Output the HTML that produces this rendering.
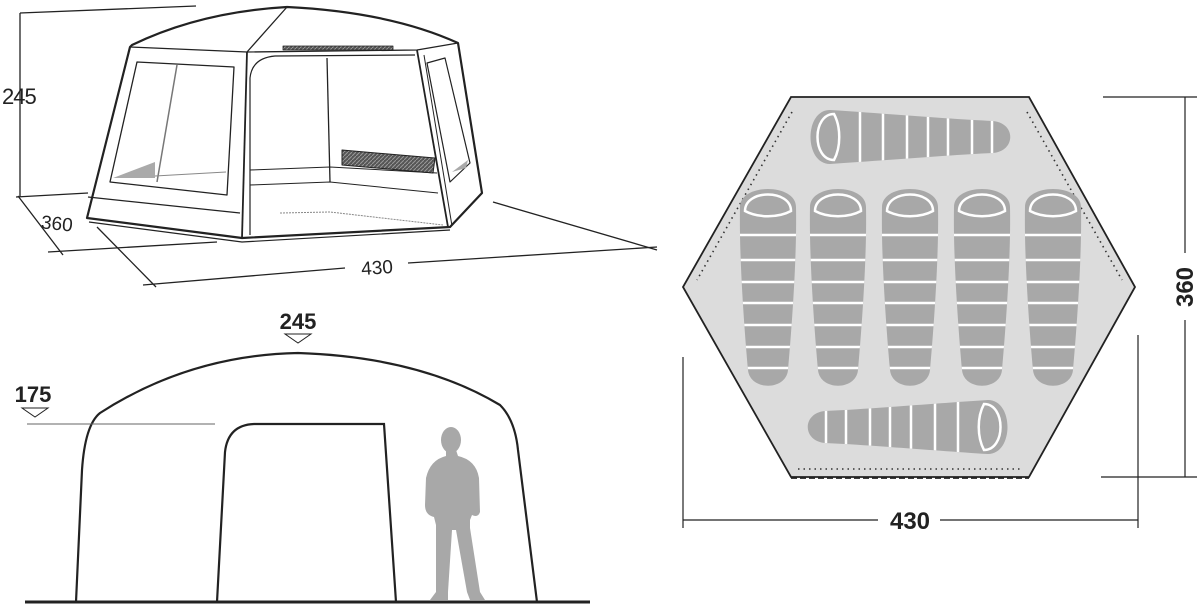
<!DOCTYPE html>
<html><head><meta charset="utf-8"><style>
html,body{margin:0;padding:0;background:#fff;}
svg{display:block;}
text{font-family:"Liberation Sans",sans-serif;font-weight:bold;fill:#222;}
</style></head><body>
<svg width="1200" height="612" viewBox="0 0 1200 612" xmlns="http://www.w3.org/2000/svg">
<defs>
  <pattern id="hatch" width="4" height="4" patternUnits="userSpaceOnUse">
    <rect width="4" height="4" fill="#555"/><path d="M0,4 L4,0" stroke="#999" stroke-width="1"/>
  </pattern>
  <path id="vbag" d="M-28,22 C-28,-2 28,-2 28,22 C29,70 24,140 20,185 C18,206 -18,206 -20,185 C-24,140 -29,70 -28,22 Z"/>
  <clipPath id="vclip"><use href="#vbag"/></clipPath>
  <g id="vb">
    <use href="#vbag" fill="#a8a8a8"/>
    <g clip-path="url(#vclip)" stroke="#fff" stroke-width="2.5">
      <line x1="-40" y1="50" x2="40" y2="50"/><line x1="-40" y1="75" x2="40" y2="75"/>
      <line x1="-40" y1="97" x2="40" y2="97"/><line x1="-40" y1="118" x2="40" y2="118"/>
      <line x1="-40" y1="140" x2="40" y2="140"/><line x1="-40" y1="162" x2="40" y2="162"/>
      <line x1="-40" y1="183" x2="40" y2="183"/>
    </g>
    <path d="M-23,26 C-23,4 23,4 23,26 C10,33 -10,33 -23,26 Z" fill="none" stroke="#fff" stroke-width="2.5"/>
  </g>
  <path id="hbag" d="M22,-27 C-4,-27 -4,27 22,27 C70,24 140,18 185,16 C208,14 208,-14 185,-16 C140,-18 70,-24 22,-27 Z"/>
  <clipPath id="hclip"><use href="#hbag"/></clipPath>
  <g id="hb">
    <use href="#hbag" fill="#a8a8a8"/>
    <g clip-path="url(#hclip)" stroke="#fff" stroke-width="2.5">
      <line x1="52" y1="-40" x2="52" y2="40"/><line x1="75" y1="-40" x2="75" y2="40"/>
      <line x1="99" y1="-40" x2="99" y2="40"/><line x1="120" y1="-40" x2="120" y2="40"/>
      <line x1="140" y1="-40" x2="140" y2="40"/><line x1="164" y1="-40" x2="164" y2="40"/>
      <line x1="184" y1="-40" x2="184" y2="40"/>
    </g>
    <path d="M26,-23 C4,-23 4,23 26,23 C33,10 33,-10 26,-23 Z" fill="none" stroke="#fff" stroke-width="2.5"/>
  </g>
</defs>

<!-- ===== Top-left perspective tent ===== -->
<g fill="none" stroke="#222" stroke-width="1.3">
  <!-- dimension lines -->
  <line x1="20" y1="13" x2="196" y2="6"/>
  <line x1="20" y1="13" x2="20" y2="197"/>
  <line x1="16" y1="197" x2="88" y2="193"/>
  <line x1="18" y1="196" x2="63" y2="255"/>
  <line x1="48" y1="252" x2="217" y2="242"/>
  <line x1="97" y1="227" x2="156" y2="287"/>
  <line x1="143" y1="285" x2="345" y2="268"/>
  <line x1="408" y1="263" x2="657" y2="247"/>
  <line x1="493" y1="202" x2="657" y2="250"/>
</g>
<g stroke="#222" fill="none" stroke-linejoin="round">
  <!-- body -->
  <path d="M132,45 Q200,12 287,7 Q390,12 458,43 L482,193 L450,227 L242,238 L87,218 L130,47 Z" fill="#fff" stroke-width="2.2"/>
  <path d="M130,47 L247,52 L287,7" stroke-width="1.3"/>
  <path d="M247,52 L417,50 L458,43" stroke-width="1.3"/>
  <path d="M247,52 L242,238" stroke-width="1.8"/>
  <path d="M417,50 L448,227" stroke-width="1.8"/>
  <path d="M424,55 L452,226" stroke-width="1"/>
  <path d="M88,197 L240,213" stroke-width="1.2"/>
  <path d="M89,222 L242,242 L450,230" stroke-width="1.2"/>
  <!-- vent on roof -->
  <rect x="283" y="46" width="110" height="4" fill="url(#hatch)" stroke-width="0.8"/>
  <!-- door arch -->
  <path d="M250,235 L250,78 Q252,58 275,56 L415,55" stroke-width="1.2"/>
  <!-- inner back walls -->
  <path d="M250,170 L330,167 L437,173" stroke-width="1"/>
  <path d="M250,185 L330,182 L438,193" stroke-width="1"/>
  <path d="M327,58 L330,182" stroke-width="1.3"/>
  <!-- right vent strip -->
  <path d="M342,150 L435,158 L433,173 L342,165 Z" fill="url(#hatch)" stroke-width="1"/>
  <!-- left window -->
  <path d="M137,62 L234,67 L227,195 L110,182 Z" stroke-width="1.3"/>
  <path d="M177,65 L157,182" stroke="#777" stroke-width="1.5"/>
  <path d="M113,178 L155,162 L155,178 Z" fill="#aaa" stroke="none"/>
  <path d="M155,176 L226,172" stroke="#888" stroke-width="1"/>
  <!-- right window -->
  <path d="M427,63 L445,58 L470,163 L450,182 Z" stroke-width="1.2"/>
  <path d="M452,172 L468,160 L466,168 Z" fill="#aaa" stroke="none"/>
  <!-- floor dashed -->
  <path d="M280,213 L330,212 L443,225" stroke="#888" stroke-width="1" stroke-dasharray="2,1"/>
</g>
<text x="2" y="104" font-size="22" style="font-weight:normal;letter-spacing:-1px">245</text>
<text x="57" y="230" font-size="19" text-anchor="middle" style="font-weight:normal" transform="rotate(6 57 223)">360</text>
<text x="377" y="274" font-size="19" text-anchor="middle" style="font-weight:normal" transform="rotate(-4 377 267)">430</text>

<!-- ===== Bottom-left front view ===== -->
<g fill="none" stroke="#222">
  <line x1="25" y1="602" x2="590" y2="602" stroke-width="3"/>
  <path d="M76,602 L82,470 Q85,425 100,413 Q190,355 298,353 Q420,357 500,405 Q515,420 518,450 L537,602" stroke-width="2.2"/>
  <path d="M217,602 L225,452 Q228,425 254,424 L384,424 L396,602" stroke-width="2.2"/>
  <line x1="27" y1="424" x2="215" y2="424" stroke="#666" stroke-width="1"/>
  <path d="M285,334 L311,334 L298,343 Z" stroke-width="1"/>
  <path d="M22,408 L48,408 L35,417 Z" stroke-width="1"/>
</g>
<text x="298" y="329" font-size="22" text-anchor="middle">245</text>
<text x="33" y="402" font-size="22" text-anchor="middle">175</text>
<!-- person -->
<g fill="#a8a8a8">
  <ellipse cx="451" cy="440" rx="10" ry="13"/>
  <path d="M446,450 L456,450 L458,456 Q476,460 479,478 L480,512 Q478,518 472,515 L470,520 L470,528 L480,592 L485,600 L470,600 L467,592 L456,530 L452,530 L448,592 L448,600 L430,600 L436,592 L436,525 L434,517 Q425,515 425,505 L426,478 Q430,460 446,456 Z"/>
</g>

<!-- ===== Right floor plan ===== -->
<path d="M791,97 L1029,97 L1135,287 L1029,477 L791,477 L683,287 Z" fill="#dcdcdc" stroke="#222" stroke-width="1.8"/>
<g fill="none" stroke="#333" stroke-width="1.6" stroke-dasharray="1.5,4">
  <path d="M792,112 L697,280"/>
  <path d="M1027,112 L1122,280"/>
  <path d="M798,469 L1022,469"/>
</g>
<path d="M791,478 L1029,478" stroke="#222" stroke-width="1.8" stroke-dasharray="6,3" fill="none"/>
<use href="#hb" transform="translate(808,137)"/>
<use href="#hb" transform="translate(1010,427) scale(-1,1)"/>
<use href="#vb" transform="translate(768,185)"/>
<use href="#vb" transform="translate(838,185)"/>
<use href="#vb" transform="translate(910,185)"/>
<use href="#vb" transform="translate(982,185)"/>
<use href="#vb" transform="translate(1053,185)"/>
<g stroke="#222" stroke-width="1.2" fill="none">
  <line x1="1103" y1="97" x2="1197" y2="97"/>
  <line x1="1101" y1="477" x2="1197" y2="477"/>
  <line x1="1185" y1="97" x2="1185" y2="253"/>
  <line x1="1185" y1="320" x2="1185" y2="477"/>
  <line x1="683" y1="357" x2="683" y2="528"/>
  <line x1="1138" y1="335" x2="1138" y2="528"/>
  <line x1="683" y1="520" x2="878" y2="520"/>
  <line x1="940" y1="520" x2="1138" y2="520"/>
</g>
<text x="910" y="529" font-size="24" text-anchor="middle">430</text>
<text x="0" y="0" font-size="24" text-anchor="middle" transform="translate(1193,287) rotate(-90)">360</text>
</svg>
</body></html>
